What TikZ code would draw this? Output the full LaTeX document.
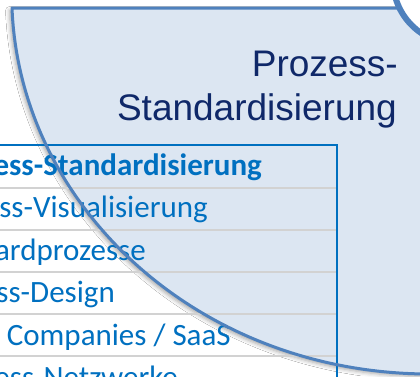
\documentclass[tikz,border=0pt]{standalone}
\usepackage{fontspec}
\setmainfont{Liberation Sans}
\newfontfamily\carlito{Carlito}
\usetikzlibrary{shadows.blur}
\definecolor{shapeline}{RGB}{79,129,189}
\definecolor{shapefill}{RGB}{220,230,242}
\definecolor{tabblue}{RGB}{0,112,192}
\definecolor{titlenavy}{RGB}{15,40,105}
\definecolor{sepgray}{RGB}{210,210,210}
\tikzset{
  celltext/.style={font=\carlito\fontsize{31}{36}\selectfont, text=tabblue, anchor=base east, inner sep=0pt},
  headtext/.style={celltext, font=\carlito\bfseries\fontsize{31}{36}\selectfont},
  titletext/.style={font=\fontsize{37}{44}\selectfont, text=titlenavy, anchor=base east, inner sep=0pt},
  sepline/.style={draw=sepgray, line width=2pt},
  outline/.style={draw=shapeline, line width=3pt, line join=round}
}
\begin{document}
\begin{tikzpicture}[x=1pt,y=-1pt]
\useasboundingbox (0,0) rectangle (420,376);
\clip (0,0) rectangle (420,376);
\fill[white] (0,0) rectangle (420,376);
% big shape: shadow and fill
\fill[shapefill, blur shadow={shadow xshift=-2.5pt, shadow yshift=-2.5pt, shadow blur radius=4pt, shadow opacity=35}]
  (12,8) .. controls (20,208) and (200,374) .. (430,374) -- (450,374) -- (450,8) -- cycle;
% table
\draw[tabblue, line width=1.2pt] (0,145) -- (338,145);
\foreach \yy in {188,230,272,313.5,356} \draw[sepline] (0,\yy) -- (336,\yy);
\draw[tabblue, line width=2.6pt] (337,144.4) -- (337,380);
\node[headtext] (r1) at (262,175) {Prozess-Standardisierung};
\node[celltext] (r2) at (208,217.5) {Prozess-Visualisierung};
\node[celltext] (r3) at (146,260) {Standardprozesse};
\node[celltext] (r4) at (115,302.5) {Prozess-Design};
\node[celltext] (r5) at (231,345) {Virtual Companies / SaaS};
\node[celltext] (r6) at (178,387.5) {Prozess-Netzwerke};
% outline of big shape
\draw[outline] (450,8) -- (12,8) .. controls (20,208) and (200,374) .. (430,374) -- (450,374);
% circle at top right
\draw[shapeline, line width=6pt, fill=white] (457,-20) circle[radius=64];
% title
\node[titletext] (t1) at (398,76) {Prozess-};
\node[titletext] (t2) at (397,120.7) {Standardisierung};
\end{tikzpicture}
\end{document}
